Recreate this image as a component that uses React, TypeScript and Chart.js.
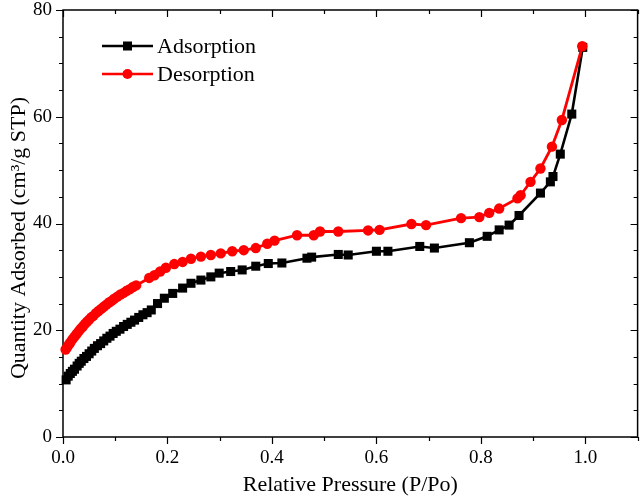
import React, { useEffect, useRef } from "react";
import { Chart, registerables } from "chart.js";

Chart.register(...registerables);

// Relative pressure (P/Po) and quantity adsorbed (cm3/g STP)
const adsX = [0.006, 0.01, 0.014, 0.018, 0.022, 0.027, 0.031, 0.035, 0.04, 0.045, 0.05, 0.055, 0.06, 0.066, 0.072, 0.078, 0.084, 0.09, 0.096, 0.102, 0.109, 0.116, 0.123, 0.13, 0.137, 0.145, 0.153, 0.161, 0.169, 0.181, 0.194, 0.21, 0.229, 0.245, 0.264, 0.283, 0.299, 0.321, 0.343, 0.369, 0.393, 0.419, 0.467, 0.476, 0.527, 0.546, 0.6, 0.622, 0.683, 0.711, 0.778, 0.812, 0.835, 0.854, 0.873, 0.914, 0.933, 0.938, 0.952, 0.974, 0.995];
const adsY = [10.7, 11.4, 11.9, 12.3, 12.7, 13.3, 13.8, 14.2, 14.7, 15.1, 15.6, 16.1, 16.6, 17.1, 17.5, 18.0, 18.5, 18.9, 19.4, 19.8, 20.2, 20.7, 21.1, 21.5, 21.9, 22.4, 22.9, 23.3, 23.8, 25.0, 26.0, 26.9, 27.9, 28.8, 29.4, 30.0, 30.7, 31.0, 31.3, 32.0, 32.5, 32.6, 33.5, 33.7, 34.2, 34.1, 34.8, 34.8, 35.7, 35.4, 36.4, 37.6, 38.8, 39.7, 41.5, 45.7, 47.8, 48.8, 53.0, 60.5, 73.0];

const desX = [0.005, 0.008, 0.011, 0.014, 0.018, 0.022, 0.026, 0.03, 0.034, 0.038, 0.042, 0.046, 0.05, 0.054, 0.058, 0.063, 0.068, 0.073, 0.078, 0.083, 0.088, 0.093, 0.098, 0.104, 0.11, 0.116, 0.122, 0.128, 0.134, 0.14, 0.165, 0.175, 0.186, 0.197, 0.213, 0.229, 0.245, 0.264, 0.283, 0.302, 0.324, 0.346, 0.369, 0.391, 0.405, 0.448, 0.48, 0.492, 0.527, 0.584, 0.606, 0.667, 0.695, 0.762, 0.797, 0.816, 0.835, 0.87, 0.876, 0.895, 0.914, 0.936, 0.955, 0.994];
const desY = [16.4, 16.8, 17.3, 17.7, 18.3, 18.8, 19.3, 19.8, 20.3, 20.7, 21.2, 21.6, 22.0, 22.4, 22.7, 23.2, 23.6, 24.0, 24.4, 24.8, 25.2, 25.5, 25.9, 26.3, 26.7, 27.0, 27.4, 27.7, 28.1, 28.4, 29.8, 30.3, 31.0, 31.7, 32.4, 32.8, 33.4, 33.8, 34.1, 34.4, 34.8, 35.0, 35.4, 36.2, 36.8, 37.8, 37.8, 38.5, 38.5, 38.7, 38.8, 39.9, 39.7, 41.0, 41.2, 42.0, 42.8, 44.7, 45.3, 47.8, 50.3, 54.4, 59.4, 73.2];

const seriesNames = ["Adsorption", "Desorption"];
const seriesColors = ["#000000", "#ff0000"];
const seriesMarkers = ["rect", "circle"];

const xTickValues = [0, 0.1, 0.2, 0.3, 0.4, 0.5, 0.6, 0.7, 0.8, 0.9, 1.0, 1.1];
const xTickLabels = ["0.0", "", "0.2", "", "0.4", "", "0.6", "", "0.8", "", "1.0", ""];
const yTickValues = [0, 5, 10, 15, 20, 25, 30, 35, 40, 45, 50, 55, 60, 65, 70, 75, 80];
const yMajorStep = 20;

const xTitle = "Relative Pressure (P/Po)";
const yTitle = "Quantity Adsorbed (cm\u00b3/g STP)";

const SERIF = "'Liberation Serif', 'Times New Roman', serif";

const framePlugin = {
  id: "framePlugin",
  beforeDatasetsDraw(chart: any) {
    const { ctx, chartArea } = chart;
    const xs = chart.scales.x;
    const ys = chart.scales.y;
    ctx.save();
    ctx.strokeStyle = "#000";
    ctx.lineWidth = 1.5;
    ctx.strokeRect(chartArea.left, chartArea.top, chartArea.right - chartArea.left, chartArea.bottom - chartArea.top);
    ctx.lineWidth = 1.2;
    ctx.beginPath();
    xTickValues.forEach((v, i) => {
      const px = Math.round(xs.getPixelForValue(v)) + 0.5;
      const len = i % 2 === 0 ? 7 : 4;
      ctx.moveTo(px, chartArea.bottom);
      ctx.lineTo(px, chartArea.bottom + len);
      ctx.moveTo(px, chartArea.top);
      ctx.lineTo(px, chartArea.top + len);
    });
    yTickValues.forEach((v) => {
      const py = Math.round(ys.getPixelForValue(v)) + 0.5;
      const len = v % yMajorStep === 0 ? 7 : 4;
      ctx.moveTo(chartArea.left, py);
      ctx.lineTo(chartArea.left - len, py);
      ctx.moveTo(chartArea.right, py);
      ctx.lineTo(chartArea.right - len, py);
    });
    ctx.stroke();
    ctx.restore();
  },
  afterDraw(chart: any) {
    const { ctx, chartArea } = chart;
    ctx.save();
    ctx.fillStyle = "#000";
    ctx.font = "22px " + SERIF;
    ctx.textAlign = "center";
    ctx.textBaseline = "middle";
    ctx.fillText(xTitle, (chartArea.left + chartArea.right) / 2, 485);
    ctx.translate(19, 238);
    ctx.rotate(-Math.PI / 2);
    ctx.fillText(yTitle, 0, 0);
    ctx.restore();

    // legend
    ctx.save();
    const legendRows = [46, 74];
    seriesNames.forEach((name, i) => {
      const y = legendRows[i];
      ctx.strokeStyle = seriesColors[i];
      ctx.fillStyle = seriesColors[i];
      ctx.lineWidth = 2.6;
      ctx.beginPath();
      ctx.moveTo(102, y);
      ctx.lineTo(153, y);
      ctx.stroke();
      if (seriesMarkers[i] === "rect") {
        ctx.fillRect(127.5 - 4.5, y - 4.5, 9, 9);
      } else {
        ctx.beginPath();
        ctx.arc(127.5, y, 5, 0, Math.PI * 2);
        ctx.fill();
      }
      ctx.fillStyle = "#000";
      ctx.font = "22px " + SERIF;
      ctx.textAlign = "left";
      ctx.textBaseline = "middle";
      ctx.fillText(name, 157, y + 1);
    });
    ctx.restore();
  },
};

export default function App() {
  const canvasRef = useRef<HTMLCanvasElement | null>(null);

  useEffect(() => {
    if (!canvasRef.current) return;
    const toPoints = (xs: number[], ys: number[]) => xs.map((x, i) => ({ x, y: ys[i] }));
    const chart = new Chart(canvasRef.current, {
      type: "line",
      data: {
        datasets: [
          {
            label: seriesNames[0],
            data: toPoints(adsX, adsY),
            borderColor: seriesColors[0],
            backgroundColor: seriesColors[0],
            pointStyle: "rect",
            pointRadius: 6.4,
            pointBorderWidth: 0,
            borderWidth: 2.6,
            tension: 0,
            clip: false,
            order: 1,
          },
          {
            label: seriesNames[1],
            data: toPoints(desX, desY),
            borderColor: seriesColors[1],
            backgroundColor: seriesColors[1],
            pointStyle: "circle",
            pointRadius: 5.2,
            pointBorderWidth: 0,
            borderWidth: 2.8,
            tension: 0,
            clip: false,
            order: 0,
          },
        ] as any,
      },
      options: {
        animation: false,
        responsive: false,
        devicePixelRatio: 1,
        layout: { padding: { top: 10, right: 4, bottom: 0, left: 0 } },
        plugins: { legend: { display: false }, tooltip: { enabled: false } },
        scales: {
          x: {
            type: "linear",
            min: 0,
            max: 1.1,
            afterBuildTicks: (scale: any) => {
              scale.ticks = xTickValues.map((v) => ({ value: v }));
            },
            afterFit: (scale: any) => {
              scale.height = 60;
            },
            ticks: {
              autoSkip: false,
              maxRotation: 0,
              padding: 5,
              color: "#000",
              font: { family: SERIF, size: 19, lineHeight: 1 },
              callback: (_v: any, i: number) => xTickLabels[i],
            },
            grid: { display: false, drawTicks: true, tickLength: 7 },
            border: { display: false },
          },
          y: {
            type: "linear",
            min: 0,
            max: 80,
            afterBuildTicks: (scale: any) => {
              scale.ticks = yTickValues.map((v) => ({ value: v }));
            },
            afterFit: (scale: any) => {
              scale.width = 63;
            },
            ticks: {
              autoSkip: false,
              padding: 0,
              color: "#000",
              font: { family: SERIF, size: 19, lineHeight: 1 },
              callback: (v: any) => (Number(v) % yMajorStep === 0 ? String(v) : ""),
            },
            grid: { display: false, drawTicks: true, tickLength: 11 },
            border: { display: false },
          },
        },
      },
      plugins: [framePlugin],
    } as any);
    return () => chart.destroy();
  }, []);

  return (
    <div style={{ position: "absolute", left: 0, top: 0, width: 644, height: 497, background: "#fff" }}>
      <canvas ref={canvasRef} width={644} height={497} style={{ display: "block" }} />
    </div>
  );
}
